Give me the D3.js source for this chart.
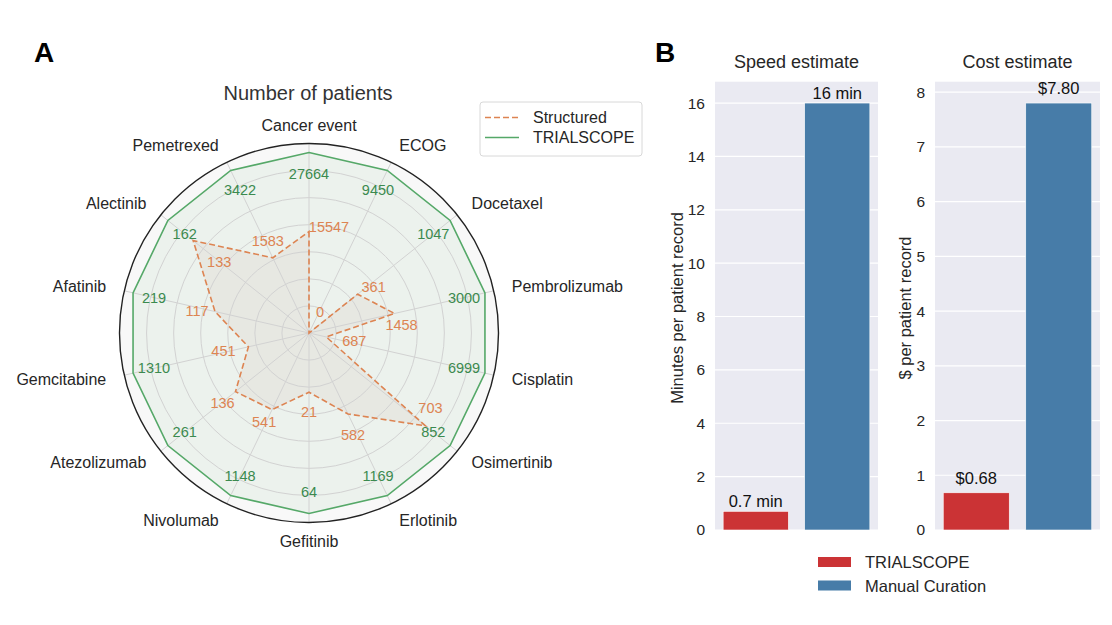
<!DOCTYPE html>
<html lang="en">
<head>
<meta charset="UTF-8">
<title>Number of patients / estimates</title>
<script src="https://d3js.org/d3.v7.min.js"></script>
<style>
  body { margin: 0; background: #fff; }
  svg { font-family: "Liberation Sans", Arial, sans-serif; }
</style>
</head>
<body>
<svg id="chart" width="1112" height="625"></svg>
<script>
// ---- data ----
const categories = ["Cancer event", "ECOG", "Docetaxel", "Pembrolizumab", "Cisplatin", "Osimertinib",
  "Erlotinib", "Gefitinib", "Nivolumab", "Atezolizumab", "Gemcitabine", "Afatinib", "Alectinib", "Pemetrexed"];
const trialscope = [27664, 9450, 1047, 3000, 6999, 852, 1169, 64, 1148, 261, 1310, 219, 162, 3422];
const structured = [15547, 0, 361, 1458, 687, 703, 582, 21, 541, 136, 451, 117, 133, 1583];
const radarTicks = [0.15, 0.3, 0.45, 0.6, 0.75, 0.9];

const methods = ["TRIALSCOPE", "Manual Curation"];
const speedValues = [0.7, 16];
const speedLabels = ["0.7 min", "16 min"];
const speedTicks = [0, 2, 4, 6, 8, 10, 12, 14, 16];
const costValues = [0.68, 7.8];
const costLabels = ["$0.68", "$7.80"];
const costTicks = [0, 1, 2, 3, 4, 5, 6, 7, 8];

// label nudges (px) for the structured numbers, relative to each vertex
const structLabelNudge = [[20, -5], [11, -21], [16, -7], [7, 12], [28, 4], [5, -18], [5, 21],
  [0, 20], [-8, 12], [-13, 11], [-25, 4], [-18, -1], [26, 21], [-5, -17]];

const orange = "#dd8452", green = "#55a868";
const red = "#cb3335", blue = "#477ca8";
const txt = "#262626";

const svg = d3.select("#chart");

// panel letters
svg.append("text").attr("x", 34).attr("y", 62).attr("font-size", 28).attr("font-weight", "bold").text("A");
svg.append("text").attr("x", 655).attr("y", 62).attr("font-size", 28).attr("font-weight", "bold").text("B");

// ---- radar ----
const cx = 309, cy = 333, R = 189.5;
const r = d3.scaleLinear().domain([0, 1.05]).range([0, R]);
const n = categories.length;
const ang = i => i * 2 * Math.PI / n;
const pt = (a, rad) => [rad * Math.sin(a), -rad * Math.cos(a)];

const radar = svg.append("g").attr("transform", `translate(${cx},${cy})`);

radar.append("circle").attr("r", R).attr("fill", "#f8f8f8");

const ratio = structured.map((v, i) => v / trialscope[i]);
const line = d3.lineRadial().angle((d, i) => ang(i)).radius(d => r(d)).curve(d3.curveLinearClosed);

radar.append("path").datum(trialscope.map(() => 1)).attr("d", line)
  .attr("fill", green).attr("fill-opacity", 0.07);
radar.append("path").datum(ratio).attr("d", line)
  .attr("fill", "#c8a890").attr("fill-opacity", 0.12);

radar.selectAll(".ring").data(radarTicks).join("circle")
  .attr("r", d => r(d)).attr("fill", "none").attr("stroke", "#d2d2d2").attr("stroke-width", 1);
radar.selectAll(".spoke").data(categories).join("line")
  .attr("x1", 0).attr("y1", 0)
  .attr("x2", (d, i) => pt(ang(i), R)[0]).attr("y2", (d, i) => pt(ang(i), R)[1])
  .attr("stroke", "#d2d2d2").attr("stroke-width", 1);

radar.append("path").datum(trialscope.map(() => 1)).attr("d", line)
  .attr("fill", "none").attr("stroke", green).attr("stroke-width", 1.6);
radar.append("path").datum(ratio).attr("d", line)
  .attr("fill", "none").attr("stroke", orange).attr("stroke-width", 1.6).attr("stroke-dasharray", "6,3");

radar.append("circle").attr("r", R).attr("fill", "none").attr("stroke", "#222").attr("stroke-width", 1.4);

// category labels
radar.selectAll(".cat").data(categories).join("text")
  .attr("x", (d, i) => pt(ang(i), R + 18.5)[0])
  .attr("y", (d, i) => pt(ang(i), R + 18.5)[1])
  .attr("text-anchor", (d, i) => {
    const s = Math.sin(ang(i));
    return s > 0.1 ? "start" : s < -0.1 ? "end" : "middle";
  })
  .attr("dominant-baseline", "central")
  .attr("font-size", 16).attr("fill", txt).text(d => d);

// value labels
radar.selectAll(".tv").data(trialscope).join("text")
  .attr("x", (d, i) => pt(ang(i), 159)[0])
  .attr("y", (d, i) => pt(ang(i), 159)[1])
  .attr("text-anchor", "middle").attr("dominant-baseline", "central")
  .attr("font-size", 14.5).attr("fill", "#3b8a4f").text(d => d);
radar.selectAll(".sv").data(structured).join("text")
  .attr("x", (d, i) => pt(ang(i), r(ratio[i]))[0] + structLabelNudge[i][0])
  .attr("y", (d, i) => pt(ang(i), r(ratio[i]))[1] + structLabelNudge[i][1])
  .attr("text-anchor", "middle").attr("dominant-baseline", "central")
  .attr("font-size", 14.5).attr("fill", orange).text(d => d);

svg.append("text").attr("x", 308).attr("y", 93).attr("text-anchor", "middle")
  .attr("dominant-baseline", "central").attr("font-size", 20).attr("fill", "#333").text("Number of patients");

// radar legend
const lg = svg.append("g");
lg.append("rect").attr("x", 480).attr("y", 102).attr("width", 162).attr("height", 54).attr("rx", 3)
  .attr("fill", "#fff").attr("stroke", "#d8d8d8");
[["Structured", orange, "6,3"], ["TRIALSCOPE", green, null]].forEach((e, k) => {
  const y = 117.5 + k * 20;
  lg.append("line").attr("x1", 485).attr("x2", 519).attr("y1", y).attr("y2", y)
    .attr("stroke", e[1]).attr("stroke-width", 1.6).attr("stroke-dasharray", e[2]);
  lg.append("text").attr("x", 533).attr("y", y).attr("dominant-baseline", "central")
    .attr("font-size", 16).attr("fill", txt).text(e[0]);
});

// ---- bar panels ----
function barPanel(x0, x1, values, labels, ticks, ymax, title, labelPad) {
  const y0 = 530, yTop = 81.7;
  const x = d3.scaleBand().domain(methods).range([x0, x1]).paddingInner(0.2).paddingOuter(0.1);
  const y = d3.scaleLinear().domain([0, ymax]).range([y0, yTop]);
  const g = svg.append("g");
  g.append("rect").attr("x", x0).attr("y", yTop).attr("width", x1 - x0).attr("height", y0 - yTop).attr("fill", "#eaeaf2");
  g.selectAll(".grid").data(ticks).join("line")
    .attr("x1", x0).attr("x2", x1).attr("y1", d => y(d)).attr("y2", d => y(d))
    .attr("stroke", "#fff").attr("stroke-width", 1.2);
  const ax = g.append("g").attr("transform", `translate(${x0},0)`)
    .call(d3.axisLeft(y).tickValues(ticks).tickSize(0).tickPadding(10).tickFormat(d3.format("d")));
  ax.select(".domain").remove();
  ax.selectAll("text").attr("font-size", 15.5).attr("fill", txt).attr("font-family", "Liberation Sans, Arial, sans-serif");
  g.selectAll(".bar").data(values).join("rect")
    .attr("x", (d, i) => x(methods[i])).attr("width", x.bandwidth())
    .attr("y", d => y(d)).attr("height", d => y0 - y(d))
    .attr("fill", (d, i) => i === 0 ? red : blue).attr("stroke", "#fff").attr("stroke-width", 0.6);
  g.selectAll(".bl").data(values).join("text")
    .attr("x", (d, i) => x(methods[i]) + x.bandwidth() / 2)
    .attr("y", d => y(d) - labelPad)
    .attr("text-anchor", "middle").attr("font-size", 16.5).attr("fill", "#111")
    .text((d, i) => labels[i]);
  g.append("text").attr("x", (x0 + x1) / 2).attr("y", 62).attr("text-anchor", "middle")
    .attr("dominant-baseline", "central").attr("font-size", 18).attr("fill", txt).text(title);
  return g;
}

barPanel(715, 878, speedValues, speedLabels, speedTicks, 16.8, "Speed estimate", 4);
barPanel(935, 1100, costValues, costLabels, costTicks, 8.19, "Cost estimate", 9);

svg.append("text").attr("transform", "translate(677,308) rotate(-90)").attr("text-anchor", "middle")
  .attr("dominant-baseline", "central").attr("font-size", 16.5).attr("fill", txt).text("Minutes per patient record");
svg.append("text").attr("transform", "translate(905,308) rotate(-90)").attr("text-anchor", "middle")
  .attr("dominant-baseline", "central").attr("font-size", 16.5).attr("fill", txt).text("$ per patient record");

// bar legend
methods.forEach((m, k) => {
  const y = 562 + k * 23.5;
  svg.append("rect").attr("x", 818).attr("y", y - 5).attr("width", 33).attr("height", 10)
    .attr("fill", k === 0 ? red : blue);
  svg.append("text").attr("x", 865).attr("y", y).attr("dominant-baseline", "central")
    .attr("font-size", 16.5).attr("fill", txt).text(m);
});
</script>
</body>
</html>
